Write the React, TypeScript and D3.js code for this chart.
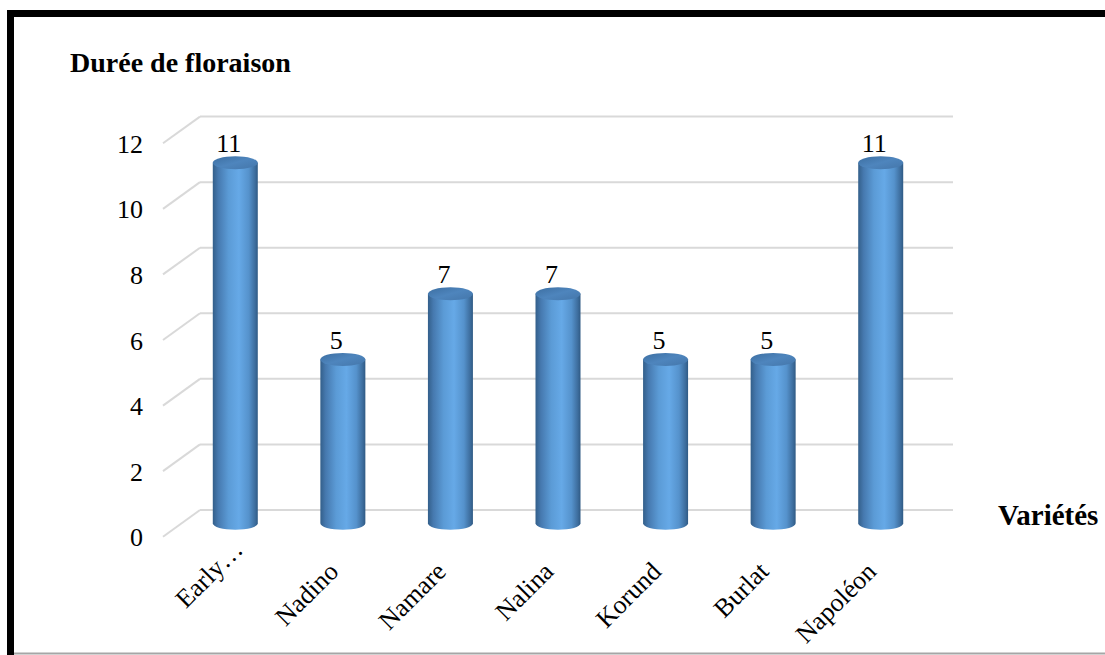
import React from "react";
import * as d3 from "d3";

// Flowering duration per cherry variety
const varieties = ["Early…", "Nadino", "Namare", "Nalina", "Korund", "Burlat", "Napoléon"];
const durations = [11, 5, 7, 7, 5, 5, 11];
const yTicks = [0, 2, 4, 6, 8, 10, 12];

const W = 1105;
const H = 655;
const FONT = "'Liberation Serif', 'Times New Roman', serif";

// oblique depth of the 3D plot area
const DEPTH_X = 37;
const DEPTH_Y = -26.7;

export default function App() {
  const x = d3.scaleBand<string>().domain(varieties).range([163, 916]);
  const y = d3.scaleLinear().domain([0, 12]).range([536.7, 143.3]);

  const barW = 45;
  const rx = barW / 2;
  const ry = 6.5;

  const cx = (c: string) => (x(c) as number) + x.bandwidth() / 2 + DEPTH_X / 2;
  const cy = (v: number) => y(v) + DEPTH_Y / 2;

  // cylinder body: straight sides with a rounded (half-ellipse) bottom
  const bodyPath = (xc: number, yTop: number, yBot: number) =>
    `M${xc - rx},${yTop} L${xc - rx},${yBot} A${rx},${ry} 0 0 0 ${xc + rx},${yBot} L${xc + rx},${yTop} Z`;

  return (
    <svg
      width={W}
      height={H}
      style={{ position: "fixed", left: 0, top: 0, display: "block", background: "#fff" }}
      fontFamily={FONT}
    >
      <defs>
        <linearGradient id="cylBody" x1="0" x2="1" y1="0" y2="0">
          <stop offset="0%" stopColor="#335f8a" />
          <stop offset="12%" stopColor="#4679af" />
          <stop offset="35%" stopColor="#5b9bd6" />
          <stop offset="58%" stopColor="#66a9e7" />
          <stop offset="80%" stopColor="#5592cc" />
          <stop offset="94%" stopColor="#3d6d9d" />
          <stop offset="100%" stopColor="#2f5a84" />
        </linearGradient>
        <linearGradient id="cylTop" x1="0" x2="1" y1="0" y2="1">
          <stop offset="0%" stopColor="#3c6ea1" />
          <stop offset="50%" stopColor="#4e85bd" />
          <stop offset="100%" stopColor="#4476aa" />
        </linearGradient>
      </defs>

      {/* frame */}
      <line x1={10.5} y1={10} x2={10.5} y2={H} stroke="#000" strokeWidth={7} />
      <line x1={7} y1={13.5} x2={W} y2={13.5} stroke="#000" strokeWidth={7} />
      <line x1={14} y1={653.5} x2={W} y2={653.5} stroke="#a6a6a6" strokeWidth={2} />

      {/* gridlines: side wall diagonal + back wall */}
      {yTicks.map((t) => (
        <g key={t} stroke="#d9d9d9" strokeWidth={2} fill="none">
          <line x1={163} y1={y(t)} x2={163 + DEPTH_X} y2={y(t) + DEPTH_Y} />
          <line x1={163 + DEPTH_X} y1={y(t) + DEPTH_Y} x2={916 + DEPTH_X} y2={y(t) + DEPTH_Y} />
        </g>
      ))}

      {/* y tick labels */}
      {yTicks.map((t) => (
        <text key={t} x={143} y={y(t) + 9.5} textAnchor="end" fontSize={26} fill="#000">
          {t}
        </text>
      ))}

      {/* cylinders */}
      {varieties.map((c, i) => {
        const v = durations[i];
        const xc = cx(c);
        const yTop = cy(v);
        const yBot = cy(0);
        return (
          <g key={c}>
            <path d={bodyPath(xc, yTop, yBot)} fill="url(#cylBody)" />
            <ellipse cx={xc} cy={yTop} rx={rx} ry={ry} fill="url(#cylTop)" />
            <text x={xc - 6.5} y={yTop - 10.5} textAnchor="middle" fontSize={26} fill="#000">
              {v}
            </text>
          </g>
        );
      })}

      {/* category labels */}
      {varieties.map((c) => {
        const truncated = c.endsWith("…");
        return (
          <g key={c} transform={`translate(${cx(c) - 3},573) rotate(-45)`}>
            <text
              x={truncated ? 24 : 0}
              y={truncated ? -7 : 0}
              textAnchor="end"
              fontSize={26}
              fill="#000"
            >
              {c}
            </text>
          </g>
        );
      })}

      {/* axis titles */}
      <text x={70} y={72} fontSize={28} fontWeight="bold" fill="#000">
        Durée de floraison
      </text>
      <text x={998} y={525} fontSize={29} fontWeight="bold" fill="#000">
        Variétés
      </text>
    </svg>
  );
}
